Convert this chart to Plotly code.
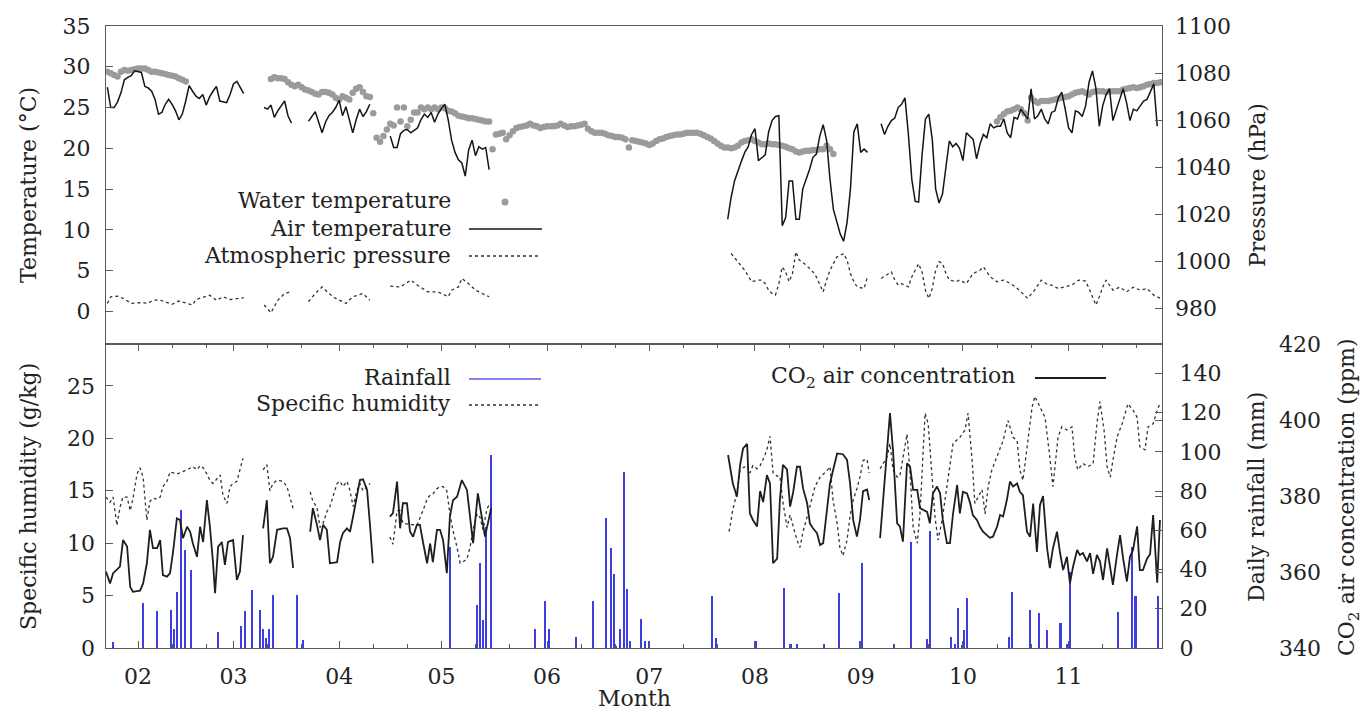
import pandas as pd
import plotly.graph_objects as go

BASE = pd.Timestamp("2019-02-01")   # day 0 = 1 February
X_RANGE_DAYS = [-9.39, 300.4]

# ---------------- Top panel ----------------
# Water temperature (daily, degC), segments start day + values
water_start = [-9, 39, 70, 104, 252]
water_temp = [
    [29.4, 29.2, 29.0, 28.8, 29.4, 29.6, 29.5, 29.6, 29.7, 29.8, 29.8, 29.8, 29.6, 29.4, 29.4, 29.3,
     29.2, 29.1, 29.0, 28.9, 28.8, 28.6, 28.4, 28.2],
    [28.5, 28.7, 28.6, 28.6, 28.5, 28.1, 27.8, 27.6, 27.8, 27.5, 27.2, 27.1, 26.9, 26.7, 26.6, 26.9,
     26.9, 26.8, 26.6, 26.2, 26.0, 26.4, 26.2, 26.0, 26.8, 27.3, 27.5, 26.9, 26.4, 26.3, 24.3],
    [21.3, 20.8, 21.5, 22.3, 23.0, 22.8, 25.0, 23.3, 25.0, 22.7, 23.5, 24.4, 24.4, 25.0, 24.8, 25.0,
     24.8, 25.0, 24.8, 25.0, 24.9, 24.6, 24.5, 24.3, 24.0, 23.9, 23.8, 23.7, 23.7, 23.6, 23.5, 23.4,
     23.3, 23.3],
    [19.9, 21.7, 21.8, 21.9, 21.1, 21.6, 22.1, 22.5, 22.6, 22.7, 22.8, 23.0, 22.8, 22.7, 22.5, 22.6,
     22.7, 22.7, 22.7, 22.8, 23.0, 22.8, 22.6, 22.7, 22.7, 22.8, 22.9, 23.0, 22.4, 22.1, 21.9, 21.9,
     21.9, 21.8, 21.6, 21.5, 21.4, 21.4, 21.3, 21.1, 20.1, 21.0, 20.9, 20.8, 20.7, 20.6, 20.4, 20.6,
     20.9, 21.1, 21.2, 21.4, 21.5, 21.6, 21.7, 21.7, 21.8, 21.9, 21.9, 21.9, 21.9, 21.8, 21.6, 21.4,
     21.2, 20.9, 20.6, 20.3, 20.1, 20.1, 20.0, 20.1, 20.3, 20.7, 20.9, 21.0, 21.1, 20.9, 20.7, 20.5,
     20.5, 20.6, 20.5, 20.5, 20.4, 20.3, 20.2, 20.0, 19.9, 19.6, 19.5, 19.6, 19.7, 19.7, 19.8, 19.8,
     19.9, 19.9, 20.3, 19.9, 19.3],
    [23.3, 23.8, 24.2, 24.5, 24.6, 24.8, 25.0, 24.8, 24.3, 23.4, 26.2, 25.8, 25.6, 25.8, 25.8, 25.8,
     25.9, 26.0, 26.1, 26.2, 26.3, 26.4, 26.6, 26.8, 26.9, 27.0, 26.8, 26.6, 26.9, 27.0, 27.0, 27.0,
     26.9, 27.0, 27.0, 27.0, 27.0, 27.2, 27.3, 27.4, 27.5, 27.4, 27.5, 27.6, 27.8, 27.9, 28.0, 28.0,
     28.1],
]

# Air temperature (daily, degC)
air_start = [-9, 37, 50, 74, 173, 218]
air_temp = [
    [27.5, 25.0, 25.0, 25.7, 26.8, 28.4, 28.7, 28.9, 29.5, 29.4, 29.3, 27.6, 27.4, 27.0, 26.0, 24.2,
     24.4, 25.4, 26.0, 25.4, 24.6, 23.5, 24.2, 25.8, 27.7, 27.0, 26.4, 26.1, 26.6, 25.3, 26.3, 27.0,
     27.6, 25.8, 25.7, 25.6, 26.6, 27.9, 28.2, 27.5, 26.7],
    [25.0, 24.8, 25.3, 23.8, 24.6, 25.2, 25.8, 24.0, 23.1],
    [23.3, 23.9, 24.5, 23.2, 21.9, 23.2, 24.0, 24.4, 25.0, 25.9, 24.0, 25.1, 23.5, 21.9, 23.5, 24.8,
     23.9, 24.5, 25.4],
    [21.5, 20.1, 20.1, 21.8, 22.2, 22.3, 21.9, 22.2, 22.5, 23.5, 24.2, 23.8, 24.4, 23.2, 24.2, 24.9,
     25.4, 23.5, 21.0, 19.5, 18.6, 18.2, 16.6, 19.8, 21.0, 19.1, 20.2, 19.9, 20.1, 17.4],
    [11.3, 14.0, 16.0, 17.3, 18.4, 19.5, 20.2, 21.7, 22.4, 18.5, 18.9, 19.2, 22.0, 23.4, 23.9, 24.0,
     10.5, 11.5, 16.0, 16.0, 11.3, 11.3, 15.0, 16.2, 17.4, 18.9, 19.3, 21.5, 22.9, 21.0, 16.2, 12.5,
     10.9, 9.5, 8.6, 10.9, 15.0, 22.0, 23.0, 19.5, 19.9, 19.5],
    [23.0, 21.7, 22.7, 23.4, 23.7, 25.0, 25.4, 26.2, 21.7, 16.2, 13.5, 13.4, 19.1, 23.6, 24.2, 21.1,
     15.0, 13.3, 14.4, 18.0, 20.9, 20.2, 20.6, 20.0, 18.5, 21.9, 21.5, 21.1, 18.7, 20.5, 21.7, 21.3,
     23.0, 22.5, 22.7, 22.7, 23.6, 21.9, 21.3, 23.8, 23.6, 24.8, 24.2, 23.6, 27.3, 23.6, 24.0, 24.8,
     23.6, 23.0, 24.4, 24.6, 26.2, 26.9, 24.8, 22.5, 21.9, 24.6, 24.4, 23.9, 25.2, 28.1, 29.5, 27.4,
     22.7, 25.2, 26.6, 27.3, 23.4, 24.6, 26.0, 27.3, 25.6, 23.4, 24.8, 24.6, 25.2, 25.8, 26.0, 26.9,
     27.9, 22.7],
]

# Atmospheric pressure (hPa)
press_days = [
    [-9, -8, -6, -4, -2, 1, 3, 4, 6, 8, 10, 12, 14, 16, 17, 19, 21, 23, 25, 27, 29, 31],
    [37, 39, 41, 43, 45],
    [50, 52, 54, 56, 58, 61, 63, 66, 68],
    [74, 77, 80, 82, 85, 88, 91, 92, 94, 95, 97, 99, 101, 103],
    [174, 176, 178, 180, 182, 183, 184, 185, 186, 187, 188, 189, 190, 191, 192, 193, 194, 196, 198,
     199, 200, 201, 202, 203, 204, 205, 207, 208, 209, 210, 211, 213, 214],
    [218, 220, 221, 222, 223, 224, 226, 227, 229, 230, 231, 232, 233, 234, 235, 236, 237, 238, 239,
     240, 241, 243, 245, 247, 248, 250, 252, 254, 256, 258, 260, 261, 263, 265, 267, 268, 270, 272,
     274, 276, 278, 279, 280, 281, 282, 283, 284, 285, 286, 288, 290, 292, 294, 296, 298, 300],
]
press_hpa = [
    [982.0, 984.8, 985.1, 983.9, 982.0, 982.3, 982.0, 983.0, 983.6, 982.6, 981.6, 983.0, 982.3,
     981.3, 983.6, 984.5, 985.5, 983.3, 984.8, 983.6, 984.0, 984.4],
    [981.3, 978.0, 983.3, 986.2, 987.0],
    [982.7, 986.2, 989.0, 986.2, 984.1, 982.0, 984.8, 986.2, 983.3],
    [989.3, 989.0, 991.9, 989.7, 986.9, 986.9, 984.8, 987.6, 989.0, 992.6, 990.4, 987.6, 986.2, 984.8],
    [1003.2, 999.7, 996.1, 991.2, 991.9, 991.9, 990.4, 987.6, 986.2, 985.5, 990.4, 997.5, 995.4,
     991.2, 994.7, 1003.9, 1000.4, 998.3, 995.4, 993.3, 990.4, 986.9, 991.9, 996.1, 998.9, 1001.7,
     1003.2, 1000.4, 994.7, 991.2, 989.0, 988.3, 993.3],
    [992.6, 994.7, 995.4, 991.9, 989.8, 990.4, 989.0, 993.3, 998.9, 995.4, 987.6, 984.1, 988.3,
     996.1, 999.7, 999.0, 994.7, 991.9, 991.5, 991.2, 991.9, 990.4, 994.7, 996.1, 997.5, 993.3,
     991.2, 991.9, 990.4, 988.3, 985.5, 984.1, 987.6, 991.9, 989.8, 989.8, 988.3, 988.9, 989.8,
     991.9, 991.5, 988.3, 984.8, 981.3, 984.8, 988.9, 991.9, 989.5, 987.6, 988.9, 986.9, 988.9,
     987.6, 988.3, 985.5, 984.1],
]

# ---------------- Bottom panel ----------------
rain_days = [-7.3, 1.6, 5.6, 9.7, 10.6, 11.5, 12.6, 13.8, 15.5, 23.6, 30.4, 31.6, 33.6, 35.8, 36.6,
             37.5, 38.5, 39.7, 46.6, 48.5, 91.5, 99.4, 100.3, 101.3, 102.3, 103.5, 116.5, 119.6,
             120.7, 128.5, 133.6, 137.5, 138.7, 139.6, 140.4, 141.6, 142.6, 143.4, 144.5, 147.6,
             148.8, 149.9, 168.6, 169.5, 181.3, 189.6, 191.5, 193.5, 201.2, 205.6, 211.8, 212.6,
             221.8, 226.7, 231.4, 232.5, 238.7, 239.7, 240.6, 241.8, 242.4, 243.4, 255.6, 256.6,
             261.7, 264.4, 266.6, 270.7, 272.6, 273.6, 287.6, 291.7, 292.7, 299.4]
rain_mm = [2.8, 22.7, 19.0, 19.6, 9.5, 28.5, 70.3, 50.0, 40.0, 7.9, 11.0, 19.0, 29.8, 19.6, 9.5,
           5.0, 9.5, 26.8, 26.8, 4.0, 51.6, 21.8, 43.1, 14.5, 61.8, 98.4, 9.5, 24.0, 9.5, 5.6,
           24.0, 66.1, 50.8, 37.5, 1.0, 9.5, 89.9, 30.3, 3.6, 15.0, 3.6, 3.6, 26.6, 5.3, 3.6, 30.7,
           1.9, 1.9, 1.9, 28.1, 3.6, 43.5, 1.9, 54.2, 4.8, 59.8, 5.6, 2.0, 20.6, 1.5, 9.0, 25.7,
           5.6, 28.5, 19.3, 17.6, 9.4, 12.5, 2.0, 38.5, 18.1, 51.6, 26.6, 26.6]

hum_days = [
    [-9.4, -8.2, -7.3, -6.2, -5.3, -4.4, -3.2, -2.3, -1.5, -0.3, 0.6, 1.5, 2.6, 3.5, 4.4, 5.6, 6.5,
     7.3, 8.5, 9.4, 11.4, 13.2, 14.4, 16.1, 17.3, 18.2, 19.1, 20.2, 21.1, 22.0, 23.2, 24.1, 24.9,
     26.1, 27.0, 27.9, 29.0, 29.9, 30.8],
    [36.7, 37.8, 38.7, 39.6, 40.8, 42.5, 43.7, 44.6, 45.5],
    [50.5, 51.3, 52.5, 53.4, 54.3, 55.4, 56.3, 57.2, 58.4, 59.3, 60.1, 61.3, 62.2, 63.1, 64.2, 65.1,
     66.0, 67.2, 68.1],
    [73.9, 74.8, 76.0, 76.9, 77.7, 79.8, 81.8, 83.6, 84.8, 85.7, 86.5, 87.7, 88.6, 89.5, 90.6, 91.5,
     92.4, 93.6, 94.5, 95.3, 96.5, 97.4, 98.3, 99.5, 100.3, 101.2, 102.4, 103.3],
    [173.4, 174.5, 175.7, 176.6, 177.5, 178.7, 179.5, 180.4, 181.6, 182.5, 183.4, 184.5, 185.4,
     186.3, 187.5, 188.3, 189.2, 190.4, 191.3, 192.2, 193.3, 194.2, 195.1, 197.1, 198.6, 200.1,
     202.1, 203.0, 203.9, 205.1, 205.9, 206.8, 208.0, 208.9, 209.8, 210.9, 211.8, 212.7, 213.9,
     214.5],
    [217.7, 219.7, 220.6, 221.5, 222.7, 223.5, 225.6, 226.5, 227.4, 228.6, 229.4, 230.9, 231.8,
     232.9, 233.8, 234.7, 235.9, 237.3, 239.1, 241.1, 242.6, 243.5, 244.7, 245.5, 246.4, 247.6,
     248.5, 249.4, 250.5, 252.0, 253.8, 255.2, 256.7, 257.9, 258.7, 259.6, 261.1, 262.3, 263.1,
     264.6, 266.1, 267.5, 268.4, 269.9, 271.0, 272.5, 274.0, 274.8, 275.7, 277.2, 278.7, 280.2,
     281.3, 282.2, 283.4, 284.3, 285.2, 286.0, 287.2, 288.7, 290.4, 291.9, 293.1, 293.9, 295.4,
     296.3, 297.8, 299.0, 299.8],
]
hum_gkg = [
    [14.4, 13.9, 14.4, 11.7, 13.4, 14.4, 14.4, 13.1, 14.2, 16.6, 17.2, 16.3, 12.2, 14.0, 14.3, 14.2,
     14.4, 15.4, 15.9, 16.8, 16.6, 16.8, 17.0, 17.3, 17.0, 17.4, 17.2, 16.6, 16.0, 15.7, 16.1, 16.5,
     14.6, 13.8, 15.4, 15.7, 15.9, 17.0, 18.1],
    [17.0, 17.5, 15.0, 15.7, 16.0, 15.9, 15.4, 14.2, 13.3],
    [14.9, 14.0, 13.4, 11.5, 11.9, 13.0, 13.5, 14.4, 15.7, 15.9, 15.4, 15.9, 15.0, 13.5, 15.0, 15.7,
     15.0, 15.4, 15.7],
    [10.6, 9.9, 13.1, 13.1, 11.9, 11.8, 11.7, 13.1, 14.2, 14.6, 14.7, 15.2, 15.4, 15.4, 15.0, 12.8,
     11.2, 9.6, 8.1, 8.2, 8.5, 9.6, 11.3, 12.8, 12.5, 11.3, 13.3, 13.8],
    [11.1, 13.2, 14.8, 17.0, 17.2, 17.4, 16.7, 17.4, 17.1, 17.4, 18.0, 18.9, 20.2, 16.7, 16.4, 16.4,
     13.9, 11.5, 12.7, 11.5, 10.3, 9.6, 11.1, 13.5, 15.4, 16.3, 16.9, 17.3, 14.1, 11.9, 9.6, 8.8,
     10.3, 12.6, 14.1, 15.2, 16.3, 17.9, 18.0, 16.7],
    [17.1, 18.2, 19.5, 17.0, 16.3, 16.4, 20.4, 16.6, 11.5, 10.0, 12.8, 22.4, 21.4, 16.6, 12.5, 10.3,
     12.2, 15.4, 19.5, 20.1, 20.8, 22.4, 17.9, 13.8, 14.4, 15.1, 12.8, 15.4, 17.0, 18.2, 19.8, 21.7,
     20.1, 19.8, 17.0, 16.0, 19.8, 23.0, 24.0, 23.0, 22.0, 18.2, 15.4, 20.1, 21.1, 20.8, 21.1, 18.2,
     17.0, 17.6, 17.3, 17.6, 21.4, 23.5, 20.8, 17.3, 16.3, 17.9, 20.1, 21.4, 23.3, 22.7, 22.0, 19.2,
     18.9, 21.1, 21.4, 22.7, 23.3],
]

co2_days = [
    [-9.4, -8.2, -7.3, -5.3, -4.4, -3.2, -2.3, -1.5, 0.6, 1.5, 2.6, 3.5, 4.4, 5.6, 6.5, 7.3, 8.5,
     9.4, 10.3, 11.4, 12.3, 13.2, 14.4, 15.3, 16.1, 17.3, 18.2, 19.1, 20.2, 21.1, 22.0, 22.6, 23.5,
     24.6, 25.5, 26.4, 27.9, 29.0, 29.9, 30.8],
    [36.7, 37.8, 38.7, 39.6, 40.8, 42.5, 43.7, 44.6, 45.5],
    [50.5, 51.3, 52.5, 53.4, 54.3, 55.4, 56.3, 58.4, 59.3, 60.1, 61.3, 62.2, 63.1, 64.2, 65.1, 66.0,
     67.2, 68.1, 68.9],
    [73.9, 74.8, 76.0, 76.9, 77.7, 78.9, 79.8, 80.7, 81.8, 82.7, 83.6, 84.8, 85.7, 86.5, 87.7, 88.6,
     89.5, 90.6, 91.5, 92.4, 93.6, 95.0, 96.5, 97.4, 98.3, 99.7, 101.8, 103.6],
    [173.1, 174.5, 175.7, 176.6, 177.5, 178.7, 179.5, 180.4, 181.6, 182.5, 183.4, 184.5, 185.4,
     186.3, 187.5, 188.3, 189.2, 190.4, 191.3, 192.2, 193.3, 194.2, 195.1, 196.3, 197.1, 198.0,
     199.2, 200.1, 201.0, 202.1, 203.0, 203.9, 205.1, 206.8, 208.0, 208.9, 209.8, 210.9, 211.8,
     212.7, 213.9, 214.5],
    [217.7, 218.6, 219.7, 220.6, 221.5, 222.7, 223.5, 224.4, 225.6, 226.5, 227.4, 228.6, 229.4,
     230.3, 231.5, 232.3, 233.2, 234.4, 235.3, 236.1, 237.3, 238.2, 239.1, 240.3, 241.1, 242.0,
     243.2, 244.1, 244.9, 246.1, 247.0, 247.9, 249.1, 249.9, 250.8, 252.0, 252.9, 253.8, 254.9,
     255.8, 256.7, 257.9, 258.7, 259.6, 260.8, 261.7, 262.6, 263.7, 264.6, 265.5, 266.7, 267.5,
     268.4, 269.6, 270.5, 271.4, 272.5, 273.4, 274.3, 275.5, 276.3, 277.2, 278.4, 279.3, 280.2,
     281.3, 282.2, 283.1, 284.3, 285.2, 286.0, 287.2, 288.1, 289.0, 290.1, 291.0, 291.9, 293.1,
     293.9, 294.8, 296.0, 296.9, 297.8, 299.0, 299.8],
]
co2_ppm = [
    [360.1, 357.0, 359.7, 361.4, 368.4, 366.7, 356.1, 354.8, 355.1, 357.0, 362.3, 371.1, 366.3,
     366.3, 368.4, 359.2, 358.8, 359.7, 365.4, 374.1, 373.7, 368.9, 371.9, 370.6, 367.5, 364.0,
     371.9, 367.9, 378.9, 371.9, 362.6, 354.4, 366.6, 367.9, 361.9, 367.9, 368.4, 357.9, 360.1,
     369.7],
    [371.5, 378.9, 362.3, 364.0, 371.1, 371.5, 371.5, 368.9, 361.1],
    [370.6, 376.8, 372.4, 368.4, 372.4, 371.1, 362.3, 362.6, 367.9, 370.2, 371.5, 370.6, 374.6,
     380.3, 384.2, 384.4, 381.6, 371.9, 362.3],
    [374.6, 375.5, 383.8, 371.5, 378.1, 378.1, 370.6, 369.3, 372.4, 372.4, 367.9, 362.3, 367.5,
     362.6, 371.1, 371.1, 368.4, 359.7, 374.6, 378.9, 379.8, 384.2, 381.6, 374.1, 367.6, 380.7,
     369.3, 376.8],
    [390.8, 383.3, 379.8, 388.0, 392.5, 393.7, 375.4, 373.7, 372.0, 381.3, 378.4, 385.5, 383.3,
     362.3, 363.5, 378.9, 388.2, 387.0, 377.2, 381.0, 387.7, 387.7, 382.0, 378.1, 372.8, 371.5,
     370.2, 367.1, 367.6, 377.2, 383.3, 386.8, 391.2, 391.0, 389.5, 383.3, 373.7, 369.3, 373.7,
     381.3, 381.7, 378.9],
    [368.9, 379.0, 389.5, 401.8, 391.9, 372.8, 372.0, 368.0, 388.6, 387.7, 381.6, 381.6, 376.8,
     376.4, 375.8, 372.8, 380.7, 382.5, 380.7, 373.7, 367.6, 367.6, 375.4, 382.9, 375.4, 381.1,
     380.7, 378.2, 375.0, 373.7, 371.9, 370.6, 369.7, 369.0, 369.3, 371.9, 375.0, 374.6, 379.0,
     383.8, 382.5, 383.3, 381.1, 380.2, 370.6, 369.3, 378.0, 365.3, 377.6, 380.0, 366.2, 361.0,
     366.2, 370.6, 365.0, 360.5, 364.0, 357.0, 361.4, 365.8, 364.5, 365.0, 362.8, 365.0, 359.5,
     364.5, 362.8, 357.9, 366.2, 361.4, 356.6, 364.5, 369.7, 363.5, 357.5, 364.0, 365.8, 372.0,
     360.5, 360.5, 363.5, 364.7, 375.0, 357.2, 373.7],
]

# ---------------- helpers ----------------
def day_to_date(d):
    return BASE + pd.Timedelta(days=d)


def join_daily(starts, segs):
    xs, ys = [], []
    for s, seg in zip(starts, segs):
        xs += [day_to_date(s + i) for i in range(len(seg))]
        ys += list(seg)
        xs.append(xs[-1])
        ys.append(None)
    return xs, ys


def join_pairs(day_segs, val_segs):
    xs, ys = [], []
    for ds, vs in zip(day_segs, val_segs):
        xs += [day_to_date(d) for d in ds]
        ys += list(vs)
        xs.append(xs[-1])
        ys.append(None)
    return xs, ys


FONT = "DejaVu Serif"
FS = 22
TXT = "#222222"
AX = "#5a5a5a"

fig = go.Figure()

wx, wy = join_daily(water_start, water_temp)
fig.add_trace(go.Scatter(x=wx, y=wy, mode="markers", xaxis="x", yaxis="y",
                         marker=dict(size=6.5, color="#9b9b9b", line=dict(width=0))))
ax_, ay_ = join_daily(air_start, air_temp)
fig.add_trace(go.Scatter(x=ax_, y=ay_, mode="lines", xaxis="x", yaxis="y",
                         line=dict(color="#151515", width=1.5)))
px_, py_ = join_pairs(press_days, press_hpa)
fig.add_trace(go.Scatter(x=px_, y=py_, mode="lines", xaxis="x", yaxis="y2",
                         line=dict(color="#333333", width=1.3, dash="dot")))

fig.add_trace(go.Bar(x=[day_to_date(d) for d in rain_days], y=rain_mm, xaxis="x2", yaxis="y3",
                     width=0.45 * 86400000, marker=dict(color="#3d3de0", line=dict(width=0))))
hx, hy = join_pairs(hum_days, hum_gkg)
fig.add_trace(go.Scatter(x=hx, y=hy, mode="lines", xaxis="x2", yaxis="y4",
                         line=dict(color="#333333", width=1.3, dash="dot")))
cx, cy = join_pairs(co2_days, co2_ppm)
fig.add_trace(go.Scatter(x=cx, y=cy, mode="lines", xaxis="x2", yaxis="y5",
                         line=dict(color="#1e1e1e", width=1.8)))

xr = [day_to_date(X_RANGE_DAYS[0]), day_to_date(X_RANGE_DAYS[1])]
minor_vals = [pd.Timestamp(2019, m, d) for m in range(1, 12) for d in (11, 21)]

SPLIT = 0.4887
tickfont = dict(family=FONT, size=FS, color=TXT)
common_y = dict(showgrid=False, zeroline=False, ticks="inside", ticklen=7, tickwidth=1.2,
                tickcolor=AX, tickfont=tickfont)

fig.update_layout(
    width=1365, height=713,
    margin=dict(l=106, r=203, t=26, b=65),
    paper_bgcolor="white", plot_bgcolor="white",
    showlegend=False, bargap=0,
    font=dict(family=FONT, size=FS, color=TXT),
    xaxis=dict(domain=[0, 1], anchor="y", type="date", range=xr, showticklabels=False,
               ticks="", showgrid=False, zeroline=False, showline=True, mirror=True,
               linecolor=AX, linewidth=1.4),
    yaxis=dict(domain=[SPLIT, 1], anchor="x", range=[-4, 35], tick0=0, dtick=5,
               showline=True, mirror=True, linecolor=AX, linewidth=1.4,
               ticklabelstandoff=10, **common_y),
    yaxis2=dict(overlaying="y", side="right", anchor="x", range=[964.7, 1100], tick0=980,
                dtick=20, showline=False, ticklabelstandoff=12, **common_y),
    xaxis2=dict(domain=[0, 1], anchor="y3", type="date", range=xr, tickformat="%m",
                dtick="M1", tick0="2019-02-01", ticks="inside", ticklen=7, tickwidth=1.2,
                tickcolor=AX, tickfont=tickfont, showgrid=False, zeroline=False,
                showline=True, mirror="ticks", linecolor=AX, linewidth=1.4,
                ticklabelstandoff=8,
                minor=dict(tickmode="array", tickvals=minor_vals, ticks="inside", ticklen=4,
                           tickwidth=1.2, tickcolor=AX)),
    yaxis3=dict(domain=[0, SPLIT], anchor="x2", side="right", range=[0, 155], tick0=0,
                dtick=20, showline=True, mirror=True, linecolor=AX, linewidth=1.4,
                ticklabelstandoff=12, **common_y),
    yaxis4=dict(overlaying="y3", side="left", anchor="x2", range=[0, 29], tick0=0, dtick=5,
                showline=False, ticklabelstandoff=10, **common_y),
    yaxis5=dict(overlaying="y3", side="right", anchor="free", position=1, range=[340, 420],
                tick0=340, dtick=20, showline=False, ticklabelstandoff=116, **common_y),
)

W, H0, L = 1056.0, 622.0, 106.0


def pxp(x):
    return (x - L) / W


def pyp(y):
    return (648.0 - y) / H0


def ann(text, x, y, xanchor="center", angle=0):
    fig.add_annotation(text=text, x=pxp(x), y=pyp(y), xref="paper", yref="paper",
                       xanchor=xanchor, yanchor="middle", showarrow=False, textangle=angle,
                       font=dict(family=FONT, size=FS, color=TXT))


# axis titles
ann("Temperature (°C)", 28, 185, angle=-90)
ann("Pressure (hPa)", 1257, 185, angle=-90)
ann("Specific humidity (g/kg)", 28, 497, angle=-90)
ann("Daily rainfall (mm)", 1256, 497, angle=-90)
ann("CO<sub>2</sub> air concentration (ppm)", 1348, 497, angle=-90)
ann("Month", 634, 698)

# legends (gnuplot style: text then key sample)
ann("Water temperature", 453, 200, xanchor="right")
ann("Air temperature", 453, 229, xanchor="right")
ann("Atmospheric pressure", 453, 256, xanchor="right")
ann("Rainfall", 453, 377, xanchor="right")
ann("Specific humidity", 453, 404, xanchor="right")
ann("CO<sub>2</sub> air concentration", 1017, 377, xanchor="right")

fig.add_shape(type="circle", xref="paper", yref="paper", xsizemode="pixel", ysizemode="pixel",
              xanchor=pxp(505), yanchor=pyp(202), x0=-3.5, x1=3.5, y0=-3.5, y1=3.5,
              fillcolor="#9b9b9b", line=dict(width=0))
fig.add_shape(type="line", xref="paper", yref="paper", x0=pxp(469), x1=pxp(542),
              y0=pyp(229), y1=pyp(229), line=dict(color="#151515", width=1.5))
fig.add_shape(type="line", xref="paper", yref="paper", x0=pxp(469), x1=pxp(539),
              y0=pyp(256), y1=pyp(256), line=dict(color="#333333", width=1.3, dash="dot"))
fig.add_shape(type="line", xref="paper", yref="paper", x0=pxp(469), x1=pxp(541),
              y0=pyp(379), y1=pyp(379), line=dict(color="#5a5aee", width=1.5))
fig.add_shape(type="line", xref="paper", yref="paper", x0=pxp(469), x1=pxp(539),
              y0=pyp(405), y1=pyp(405), line=dict(color="#333333", width=1.3, dash="dot"))
fig.add_shape(type="line", xref="paper", yref="paper", x0=pxp(1035), x1=pxp(1106),
              y0=pyp(378), y1=pyp(378), line=dict(color="#1e1e1e", width=1.8))

fig.write_html("out.html")
